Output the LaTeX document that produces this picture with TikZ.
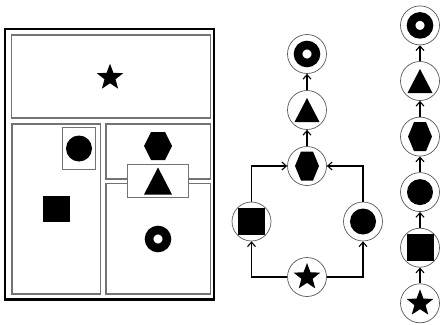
\documentclass[tikz,border=0pt]{standalone}
\usetikzlibrary{arrows.meta}
\begin{document}
\begin{tikzpicture}[x=1pt,y=-1pt,
  panel/.style={draw=black!55,line width=1.1pt},
  outerframe/.style={draw=black,line width=2.4pt},
  gnode/.style={circle,draw=black!65,line width=0.7pt,minimum size=39pt,inner sep=0pt,fill=white},
  edge/.style={draw=black,line width=1.1pt,-{Straight Barb[length=4.5pt,width=8pt,line width=1.1pt]}},
  pics/starsh/.style={code={\fill[black] (-90:#1)--(-54:0.42*#1)--(-18:#1)--(18:0.42*#1)--(54:#1)--(90:0.42*#1)--(126:#1)--(162:0.42*#1)--(198:#1)--(234:0.42*#1)--cycle;}},
  pics/hexsh/.style 2 args={code={\fill[black] (-#1,0)--(-#1/2,-#2)--(#1/2,-#2)--(#1,0)--(#1/2,#2)--(-#1/2,#2)--cycle;}},
  pics/trish/.style 2 args={code={\fill[black] (-#1/2,#2/2)--(#1/2,#2/2)--(0,-#2/2)--cycle;}},
  pics/sqsh/.style={code={\fill[black] (-#1/2,-#1/2) rectangle (#1/2,#1/2);}},
  pics/discsh/.style={code={\fill[black] (0,0) circle[radius=#1];}},
  pics/ringsh/.style={code={\draw[black,line width=8.6pt] (0,0) circle[radius=8.95];}}
]
\useasboundingbox (0,0) rectangle (441,324);
% ---------- left panel ----------
\draw[outerframe] (5,29) rectangle (214,299.5);
\draw[panel] (11.5,35) rectangle (210.5,118);
\draw[panel] (12,124) rectangle (100.5,294);
\draw[panel] (106,124) rectangle (210.5,179);
\draw[panel] (106,183.5) rectangle (210.5,294);
\node[panel,fill=white,minimum width=33.4pt,minimum height=41.6pt,inner sep=0pt] (cbox) at (79,148.5) {};
\node[panel,fill=white,minimum width=61pt,minimum height=33pt,inner sep=0pt] (tbox) at (157.8,181.2) {};
\pic at (110,77.5) {starsh=13.8};
\pic at (79,148.5) {discsh=13};
\pic at (56.7,209) {sqsh=26.5};
\pic at (158,146) {hexsh={14}{14}};
\pic at (158,181) {trish={28}{27}};
\pic at (158,239) {ringsh};
% ---------- middle graph ----------
\node[gnode] (mr) at (307,54) {};
\node[gnode] (mt) at (307,110) {};
\node[gnode] (mh) at (307,166) {};
\node[gnode] (msq) at (251.5,221.5) {};
\node[gnode] (mc) at (363,221.5) {};
\node[gnode] (ms) at (307,277) {};
\pic at (mr) {ringsh};
\pic at (mt) {trish={25}{24}};
\pic at (mh) {hexsh={12}{14.5}};
\pic at (msq) {sqsh=27};
\pic at (mc) {discsh=13};
\pic at (ms) {starsh=14};
\draw[edge] (ms.west) -| (msq.south);
\draw[edge] (ms.east) -| (mc.south);
\draw[edge] (msq.north) |- (mh.west);
\draw[edge] (mc.north) |- (mh.east);
\draw[edge] (mh.north) -- (mt.south);
\draw[edge] (mt.north) -- (mr.south);
% ---------- right chain ----------
\node[gnode] (r1) at (420,303.3) {};
\node[gnode] (r2) at (420,247.7) {};
\node[gnode] (r3) at (420,192.1) {};
\node[gnode] (r4) at (420,136.6) {};
\node[gnode] (r5) at (420,81) {};
\node[gnode] (r6) at (420,25.4) {};
\pic at (r1) {starsh=14};
\pic at (r2) {sqsh=27};
\pic at (r3) {discsh=13};
\pic at (r4) {hexsh={12}{14.5}};
\pic at (r5) {trish={25}{24}};
\pic at (r6) {ringsh};
\draw[edge] (r1.north) -- (r2.south);
\draw[edge] (r2.north) -- (r3.south);
\draw[edge] (r3.north) -- (r4.south);
\draw[edge] (r4.north) -- (r5.south);
\draw[edge] (r5.north) -- (r6.south);
\end{tikzpicture}
\end{document}
